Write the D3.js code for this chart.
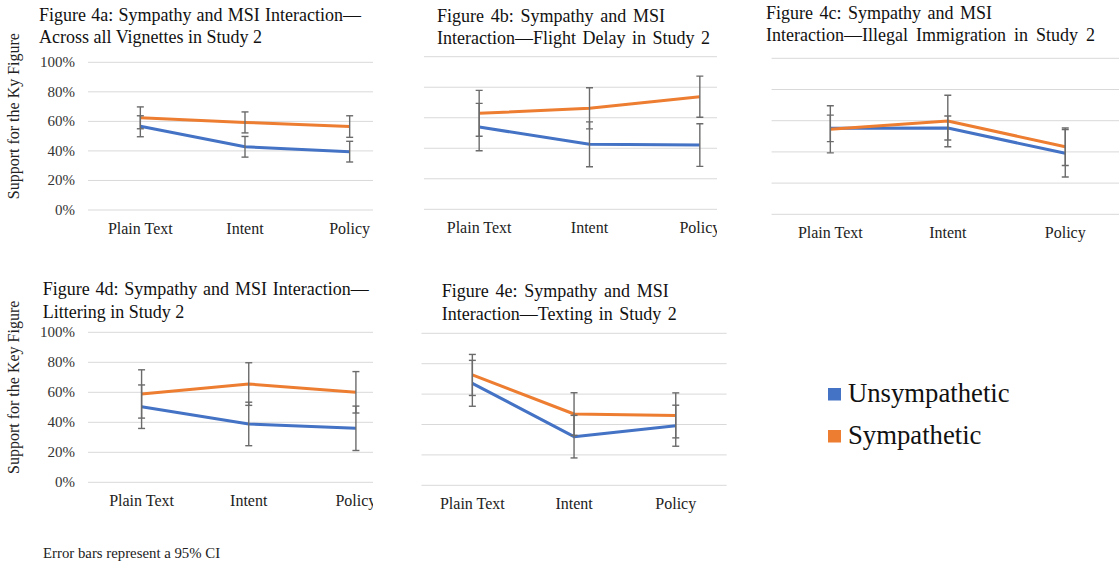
<!DOCTYPE html>
<html>
<head>
<meta charset="utf-8">
<script src="https://cdn.jsdelivr.net/npm/d3@7"></script>
<style>
  body { margin: 0; background: #fff; }
  svg { display: block; font-family: "Liberation Serif", "Times New Roman", serif; }
</style>
</head>
<body>
<svg id="chart" width="1119" height="565"></svg>
<script>
// values (share of support, 0-1)
const categories = ["Plain Text", "Intent", "Policy"];
const seriesNames = ["Unsympathetic", "Sympathetic"];
const yTicks = [0, 0.2, 0.4, 0.6, 0.8, 1];

const panelIds = ["4a", "4b", "4c", "4d", "4e"];
const titleLine1 = [
    "Figure 4a: Sympathy and MSI Interaction\u2014",
    "Figure 4b: Sympathy and MSI",
    "Figure 4c: Sympathy and MSI",
    "Figure 4d: Sympathy and MSI Interaction\u2014",
    "Figure 4e: Sympathy and MSI"
];
const titleLine2 = [
    "Across all Vignettes in Study 2",
    "Interaction\u2014Flight Delay in Study 2",
    "Interaction\u2014Illegal Immigration in Study 2",
    "Littering in Study 2",
    "Interaction\u2014Texting in Study 2"
];
const yTitles = ["Support for the Ky Figure", null, null, "Support for the Key Figure", null];

const unsympathetic = [
    [0.567, 0.428, 0.395],
    [0.539, 0.426, 0.421],
    [0.551, 0.553, 0.391],
    [0.504, 0.389, 0.360],
    [0.671, 0.320, 0.392]
];
const unsympatheticCI = [
    [0.071, 0.070, 0.070],
    [0.155, 0.147, 0.140],
    [0.085, 0.077, 0.152],
    [0.145, 0.145, 0.148],
    [0.151, 0.140, 0.135]
];
const sympathetic = [
    [0.624, 0.593, 0.565],
    [0.629, 0.662, 0.738],
    [0.545, 0.598, 0.433],
    [0.589, 0.655, 0.600],
    [0.726, 0.469, 0.460]
];
const sympatheticCI = [
    [0.074, 0.071, 0.073],
    [0.150, 0.135, 0.135],
    [0.151, 0.165, 0.120],
    [0.161, 0.142, 0.138],
    [0.135, 0.140, 0.148]
];

const footnote = "Error bars represent a 95% CI";

const colors = ["#4472c4", "#ed7d31"];
const gridColor = "#d9d9d9";
const errColor = "#6b6b6b";

// where each cropped panel sits on the page
const layout = [
    {x0: 88,    x1: 402,   clipR: 373,  y0: 210,   y100: 62.3,  tx: 39,    ty: 20.5,  w1: 322, w2: null},
    {x0: 424,   x1: 755,   clipR: 717,  y0: 209.3, y100: 56.7,  tx: 437,   ty: 21.5,  w1: 228, w2: 273},
    {x0: 771.6, x1: 1124,  clipR: 1119, y0: 214.3, y100: 58.3,  tx: 766,   ty: 18.5,  w1: 226, w2: 329},
    {x0: 88,    x1: 409.5, clipR: 373,  y0: 482.3, y100: 332.3, tx: 42.7,  ty: 295,   w1: 326, w2: null},
    {x0: 421.5, x1: 726.6, clipR: 727,  y0: 485.3, y100: 333.3, tx: 441.7, ty: 296.7, w1: 227, w2: 235}
];

const svg = d3.select("#chart");
const defs = svg.append("defs");

// stretch the spaces so a line fills the width it has in the figure
function justify(sel, width) {
    if (!width) return;
    const node = sel.node();
    const natural = node.getComputedTextLength();
    const spaces = (sel.text().match(/ /g) || []).length;
    if (spaces > 0 && width > natural) sel.attr("word-spacing", (width - natural) / spaces);
}

panelIds.forEach((id, i) => {
    const L = layout[i];
    const x = d3.scalePoint().domain(categories).range([L.x0, L.x1]).padding(0.5);
    const y = d3.scaleLinear().domain([0, 1]).range([L.y0, L.y100]);

    defs.append("clipPath").attr("id", "clip" + id)
        .append("rect").attr("x", 0).attr("y", L.y100 - 80).attr("width", L.clipR).attr("height", L.y0 - L.y100 + 120);

    const g = svg.append("g").attr("clip-path", "url(#clip" + id + ")");

    // gridlines
    g.selectAll(".grid").data(yTicks).join("line")
        .attr("x1", L.x0).attr("x2", L.x1)
        .attr("y1", d => y(d)).attr("y2", d => y(d))
        .attr("stroke", gridColor).attr("stroke-width", 1);

    // category labels
    g.selectAll(".cat").data(categories).join("text")
        .attr("x", d => x(d)).attr("y", L.y0 + 23.5)
        .attr("text-anchor", "middle").attr("font-size", 16).attr("fill", "#222")
        .text(d => d);

    const vals = [unsympathetic[i], sympathetic[i]];
    const cis = [unsympatheticCI[i], sympatheticCI[i]];

    const line = d3.line().x((d, j) => x(categories[j])).y(d => y(d));
    vals.forEach((v, s) => {
        g.append("path").attr("d", line(v))
            .attr("fill", "none").attr("stroke", colors[s])
            .attr("stroke-width", 3).attr("stroke-linejoin", "round");
    });

    // error bars on top
    vals.forEach((v, s) => {
        const bars = g.append("g").attr("stroke", errColor).attr("stroke-width", 1.4);
        v.forEach((d, j) => {
            const cx = x(categories[j]);
            const lo = y(d - cis[s][j]), hi = y(d + cis[s][j]);
            bars.append("line").attr("x1", cx).attr("x2", cx).attr("y1", lo).attr("y2", hi);
            bars.append("line").attr("x1", cx - 3.5).attr("x2", cx + 3.5).attr("y1", lo).attr("y2", lo);
            bars.append("line").attr("x1", cx - 3.5).attr("x2", cx + 3.5).attr("y1", hi).attr("y2", hi);
        });
    });

    // y axis labels only on the left panels
    if (yTitles[i]) {
        svg.append("g").selectAll("text").data(yTicks).join("text")
            .attr("x", 75).attr("y", d => y(d) + 5)
            .attr("text-anchor", "end").attr("font-size", 15).attr("fill", "#333")
            .text(d => d3.format(".0%")(d));
        svg.append("text")
            .attr("transform", `translate(19,${(L.y0 + L.y100) / 2 - 20}) rotate(-90)`)
            .attr("text-anchor", "middle").attr("font-size", 16).attr("fill", "#222")
            .text(yTitles[i]);
    }

    // two line title
    const t1 = svg.append("text").attr("x", L.tx).attr("y", L.ty)
        .attr("font-size", 18).attr("fill", "#111").text(titleLine1[i]);
    justify(t1, L.w1);
    const t2 = svg.append("text").attr("x", L.tx).attr("y", L.ty + 22.8)
        .attr("font-size", 18).attr("fill", "#111").text(titleLine2[i]);
    justify(t2, L.w2);
});

// legend
const legend = svg.append("g");
seriesNames.forEach((name, s) => {
    legend.append("rect").attr("x", 828).attr("y", 388 + s * 42)
        .attr("width", 13).attr("height", 12.5).attr("fill", colors[s]);
    legend.append("text").attr("x", 848).attr("y", 402 + s * 42)
        .attr("font-size", 26.7).attr("fill", "#111").text(name);
});

svg.append("text").attr("x", 43).attr("y", 558)
    .attr("font-size", 14.8).attr("fill", "#222").text(footnote);
</script>
</body>
</html>
